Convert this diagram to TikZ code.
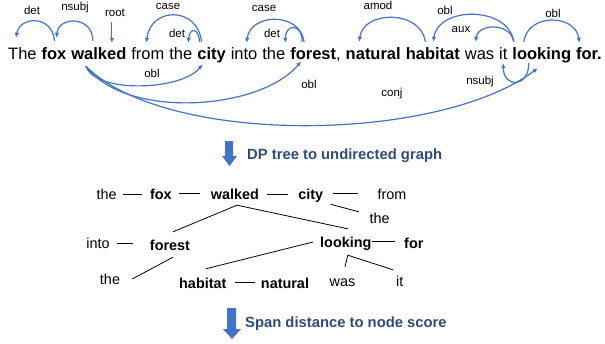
\documentclass[tikz,border=0pt]{standalone}
\usepackage{fontspec}
\setmainfont{Liberation Sans}
\usetikzlibrary{positioning,arrows.meta}
\definecolor{depblue}{HTML}{4472C4}
\definecolor{stepnavy}{HTML}{2F4B7E}
\tikzset{
  word/.style={font=\fontsize{16.5}{20}\selectfont, inner sep=0pt, text height=12pt, text depth=3.5pt},
  deplabel/.style={font=\fontsize{11.5}{13}\selectfont, inner sep=0pt},
  dep/.style={depblue, line width=1.2pt, -{Latex[length=5pt,width=4.5pt]}},
  gword/.style={font=\fontsize{14.4}{16}\selectfont, inner sep=0pt, text height=10pt, text depth=0pt, anchor=base},
  gbold/.style={gword, font=\fontsize{14.4}{16}\selectfont\bfseries},
  gedge/.style={line width=0.8pt},
  blockarrow/.style={fill=depblue},
  steptext/.style={font=\fontsize{14.8}{17}\selectfont\bfseries, text=stepnavy, inner sep=0pt, anchor=base west}
}
\begin{document}
\begin{tikzpicture}[x=1pt,y=-1pt,node distance=4.6pt]
    \useasboundingbox (0,0) rectangle (605,343);

    % Sentence
    \node[word, anchor=base west] (The) at (8,59) {The};
    \node[word, base right=of The] (fox) {\textbf{fox}};
    \node[word, base right=of fox] (walked) {\textbf{walked}};
    \node[word, base right=of walked] (from) {from};
    \node[word, base right=of from] (the1) {the};
    \node[word, base right=of the1] (city) {\textbf{city}};
    \node[word, base right=of city] (into) {into};
    \node[word, base right=of into] (the2) {the};
    \node[word, base right=of the2] (forest) {\textbf{forest},};
    \node[word, base right=of forest] (natural) {\textbf{natural}};
    \node[word, base right=of natural] (habitat) {\textbf{habitat}};
    \node[word, base right=of habitat] (was) {was};
    \node[word, base right=of was] (it) {it};
    \node[word, base right=of it] (looking) {\textbf{looking}};
    \node[word, base right=of looking] (for) {\textbf{for.}};

    % Arcs above the sentence
    \draw[dep] ([xshift=0.5pt,yshift=6pt]fox.north) .. controls +(-2,-26) and +(4,-22) .. ([xshift=-6.5pt,yshift=9pt]The.north);
    \draw[dep] ([xshift=-6pt,yshift=6pt]walked.north) .. controls +(0,-25) and +(2,-22) .. ([xshift=2.5pt,yshift=9pt]fox.north);
    \coordinate (roottop) at ([xshift=13pt,yshift=25pt]walked.north);
    \draw[dep] (roottop) -- ([xshift=13pt,yshift=4pt]walked.north);
    \draw[dep] ([xshift=-10pt,yshift=5pt]city.north) .. controls +(-4,-36) and +(4,-36) .. ([xshift=-1.5pt,yshift=4pt]from.north);
    \draw[dep] ([xshift=-12pt,yshift=5pt]city.north) .. controls +(-1,-15) and +(1,-15) .. ([xshift=7.5pt,yshift=4pt]the1.north);
    \draw[dep] ([xshift=14pt,yshift=5pt]forest.north west) .. controls +(-4,-30) and +(4,-30) .. ([xshift=2.5pt,yshift=4pt]into.north);
    \draw[dep] ([xshift=12pt,yshift=5pt]forest.north west) .. controls +(0,-19) and +(0,-19) .. ([xshift=11.5pt,yshift=4pt]the2.north);
    \draw[dep] ([xshift=-7.5pt,yshift=5pt]habitat.north) .. controls +(-4,-32) and +(4,-32) .. ([xshift=-14pt,yshift=5pt]natural.north);
    \draw[dep] ([xshift=-28pt,yshift=5pt]looking.north) .. controls +(-5,-36) and +(5,-36) .. ([xshift=0.5pt,yshift=5pt]habitat.north);
    \draw[dep] ([xshift=-28pt,yshift=5pt]looking.north) .. controls +(-3,-19) and +(3,-19) .. ([xshift=-4pt,yshift=5pt]was.north);
    \draw[dep] ([xshift=-18pt,yshift=5pt]looking.north) .. controls +(4,-29) and +(-4,-29) .. ([xshift=-9.5pt,yshift=4pt]for.north);

    % Arcs below the sentence
    \draw[dep] ([xshift=-13pt,yshift=-3.5pt]walked.south) .. controls +(10,28) and +(-20,26) .. ([xshift=-9pt,yshift=-1.5pt]city.south);
    \draw[dep] ([xshift=-13pt,yshift=-3.5pt]walked.south) .. controls +(40,54) and +(-40,49) .. ([xshift=11pt,yshift=1.5pt]forest.south west);
    \draw[dep] ([xshift=-13pt,yshift=-3.5pt]walked.south) .. controls +(80,80) and +(-100,75) .. ([xshift=-4pt,yshift=-5.5pt]looking.south);
    \draw[dep] ([xshift=-13pt,yshift=-0.5pt]looking.south) .. controls +(0,25) and +(0,25) .. ([yshift=-0.5pt]it.south);

    % Arc labels
    \node[deplabel] (lbldet1) at (32,10) {det};
    \node[deplabel] (lblnsubj1) at (75,8) {nsubj};
    \node[deplabel] (lblroot) at (115,13) {root};
    \node[deplabel] (lblcase1) at (168,6) {case};
    \node[deplabel] (lbldet2) at (177,33) {det};
    \node[deplabel] (lblcase2) at (264,8) {case};
    \node[deplabel] (lbldet3) at (272,33) {det};
    \node[deplabel] (lblamod) at (378,5) {amod};
    \node[deplabel] (lblobl1) at (445,10) {obl};
    \node[deplabel] (lblaux) at (461,29) {aux};
    \node[deplabel] (lblobl2) at (553,13) {obl};
    \node[deplabel] (lblobl3) at (152,73) {obl};
    \node[deplabel] (lblobl4) at (309,84) {obl};
    \node[deplabel] (lblconj) at (392,94) {conj};
    \node[deplabel] (lblnsubj2) at (480,82) {nsubj};

    % First step
    \fill[blockarrow] (225,141) -- (233,141) -- (233,156) -- (237,156) -- (229.5,166) -- (222,156) -- (225,156) -- cycle;
    \node[steptext] (step1) at (247,159) {DP tree to undirected graph};

    % Undirected graph
    \node[gword] (thea) at (106.7,199) {the};
    \node[gbold] (gfox) at (160.8,199) {fox};
    \node[gbold] (gwalked) at (235,199) {walked};
    \node[gbold] (gcity) at (310.8,199) {city};
    \node[gword] (gfrom) at (392,199) {from};
    \node[gword] (theb) at (379.7,223) {the};
    \node[gword] (ginto) at (98,248) {into};
    \node[gbold] (gforest) at (170,250) {forest};
    \node[gbold] (glooking) at (345.8,247) {looking};
    \node[gbold] (gfor) at (413.8,248) {for};
    \node[gword] (thec) at (110,284) {the};
    \node[gbold] (ghabitat) at (202.8,288) {habitat};
    \node[gbold] (gnatural) at (285,288) {natural};
    \node[gword] (gwas) at (342.5,286) {was};
    \node[gword] (git) at (399.7,286) {it};

    \draw[gedge] ([xshift=6.3pt]thea.east) -- ([xshift=-8pt]gfox.west);
    \draw[gedge] ([xshift=7.4pt,yshift=1pt]gfox.east) -- ([xshift=-11pt,yshift=1pt]gwalked.west);
    \draw[gedge] ([xshift=8pt]gwalked.east) -- ([xshift=-10.4pt]gcity.west);
    \draw[gedge] ([xshift=10pt,yshift=1pt]gcity.east) -- ([xshift=-19.6pt,yshift=1pt]gfrom.west);
    \draw[gedge] ([xshift=7pt,yshift=-5pt]gcity.south east) -- ([xshift=-10.7pt,yshift=1pt]theb.north west);
    \draw[gedge] ([xshift=2pt,yshift=-6pt]gwalked.south) -- ([xshift=3pt,yshift=8pt]gforest.north);
    \draw[gedge] ([xshift=2pt,yshift=-6pt]gwalked.south) -- ([xshift=2pt,yshift=8pt]glooking.north);
    \draw[gedge] ([xshift=7.4pt]ginto.east) -- ([xshift=-17pt]ginto.east -| gforest.west);
    \draw[gedge] ([xshift=3pt,yshift=-7pt]gforest.south) -- ([xshift=12pt]thec.east);
    \draw[gedge] ([xshift=-7pt]glooking.west) -- ([xshift=3pt,yshift=9pt]ghabitat.north);
    \draw[gedge] ([xshift=8.6pt,yshift=1pt]ghabitat.east) -- ([xshift=-6pt,yshift=1pt]gnatural.west);
    \draw[gedge] ([xshift=0.6pt,yshift=1pt]glooking.east) -- ([xshift=-9pt,yshift=2pt]gfor.west);
    \draw[gedge] ([xshift=2.5pt,yshift=9pt]gwas.north) -- ([xshift=2pt,yshift=-8pt]glooking.south) -- ([xshift=-6.7pt,yshift=6pt]git.north);

    % Second step
    \fill[blockarrow] (227,308) -- (236,308) -- (236,329) -- (241,329) -- (232,339) -- (223,329) -- (227,329) -- cycle;
    \node[steptext] (step2) at (245,327.5) {Span distance to node score};
\end{tikzpicture}
\end{document}
